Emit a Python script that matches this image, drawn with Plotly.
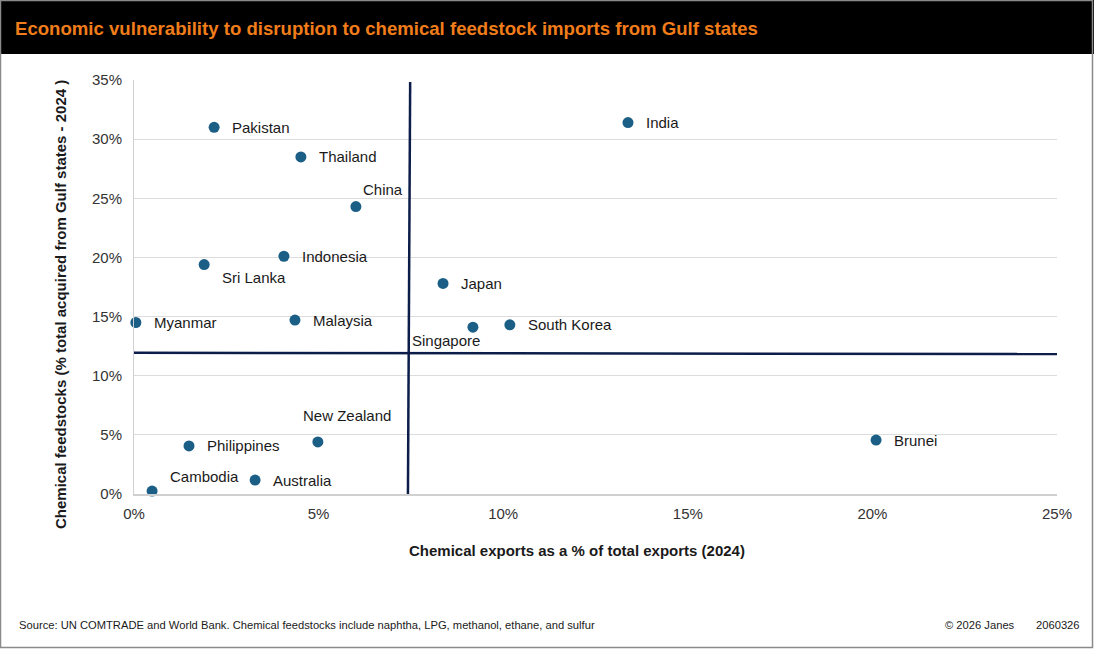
import plotly.graph_objects as go

countries = ["Pakistan", "Thailand", "China", "Indonesia", "Sri Lanka", "Myanmar", "Malaysia",
             "India", "Japan", "Singapore", "South Korea", "New Zealand", "Philippines",
             "Cambodia", "Australia", "Brunei"]
chem_exports = [2.17, 4.52, 6.01, 4.06, 1.90, 0.05, 4.36, 13.38, 8.37, 9.18, 10.18, 4.98, 1.49, 0.49, 3.28, 20.10]
feedstock_gulf = [31.0, 28.5, 24.3, 20.1, 19.4, 14.5, 14.7, 31.4, 17.8, 14.1, 14.3, 4.4, 4.06, 0.25, 1.18, 4.56]
label_pos = ["right", "right", "top", "right", "below", "right", "right", "right", "right",
             "belowleft", "right", "topcenter", "right", "topleft", "right", "right"]

vline_x = [7.48, 7.42]
vline_y = [34.83, 0]
hline_x = [0, 25]
hline_y = [11.94, 11.83]

x_ticks = [0, 5, 10, 15, 20, 25]
y_ticks = [0, 5, 10, 15, 20, 25, 30, 35]

FONT = "Liberation Sans, Arial, sans-serif"
MARK = "#1b5f86"
NAVY = "#0c1d4a"

fig = go.Figure()
fig.add_trace(go.Scatter(x=hline_x, y=hline_y, mode="lines", line=dict(color=NAVY, width=2.5),
                         hoverinfo="skip", showlegend=False))
fig.add_trace(go.Scatter(x=vline_x, y=vline_y, mode="lines", line=dict(color=NAVY, width=2.5),
                         hoverinfo="skip", showlegend=False))
fig.add_trace(go.Scatter(x=chem_exports, y=feedstock_gulf, mode="markers",
                         marker=dict(color=MARK, size=11), text=countries,
                         showlegend=False, cliponaxis=False))

for c, x, y, p in zip(countries, chem_exports, feedstock_gulf, label_pos):
    a = dict(x=x, y=y, text=c, showarrow=False, font=dict(family=FONT, size=15, color="#1a1a1a"))
    if p == "right":
        a.update(xanchor="left", yanchor="middle", xshift=16)
    elif p == "top":
        a.update(xanchor="left", yanchor="bottom", xshift=5, yshift=7)
    elif p == "topcenter":
        a.update(xanchor="center", yanchor="middle", xshift=29, yshift=26)
    elif p == "topleft":
        a.update(xanchor="left", yanchor="middle", xshift=16, yshift=15)
    elif p == "below":
        a.update(xanchor="left", yanchor="top", xshift=16, yshift=-2)
    elif p == "belowleft":
        a.update(xanchor="center", yanchor="top", xshift=-27, yshift=-3)
    fig.add_annotation(**a)

W, H = 1094, 649
L, R, T, B = 134, 1057, 80, 494
pw, ph = R - L, B - T


def px(p):
    return (p - L) / pw


def py(p):
    return (B - p) / ph


# title bar, border
fig.add_shape(type="rect", xref="paper", yref="paper", x0=px(0), x1=px(W), y0=py(54), y1=py(0),
              fillcolor="black", line=dict(width=0), layer="below")
fig.add_shape(type="rect", xref="paper", yref="paper", x0=px(0.5), x1=px(W - 1.5), y0=py(H - 1.5), y1=py(0.5),
              fillcolor="rgba(0,0,0,0)", line=dict(color="#8a8a8a", width=1.5))

fig.add_annotation(xref="paper", yref="paper", x=px(13), y=py(28), xanchor="left", yanchor="middle",
                   text="<b>Economic vulnerability to disruption to chemical feedstock imports from Gulf states</b>",
                   showarrow=False, font=dict(family=FONT, size=18.6, color="#f07d1a"))
fig.add_annotation(xref="paper", yref="paper", x=px(577), y=py(550), xanchor="center", yanchor="middle",
                   text="<b>Chemical exports as a % of total exports (2024)</b>",
                   showarrow=False, font=dict(family=FONT, size=15, color="#1a1a1a"))
fig.add_annotation(xref="paper", yref="paper", x=px(60), y=py(305), xanchor="center", yanchor="middle",
                   text="<b>Chemical feedstocks (% total acquired from Gulf states - 2024 )</b>", textangle=-90,
                   showarrow=False, font=dict(family=FONT, size=15, color="#1a1a1a"))
fig.add_annotation(xref="paper", yref="paper", x=px(17), y=py(625), xanchor="left", yanchor="middle",
                   text="Source: UN COMTRADE and World Bank. Chemical feedstocks include naphtha, LPG, methanol, ethane, and sulfur",
                   showarrow=False, font=dict(family=FONT, size=11.2, color="#1a1a1a"))
fig.add_annotation(xref="paper", yref="paper", x=px(1017), y=py(625), xanchor="right", yanchor="middle",
                   text="© 2026 Janes", showarrow=False, font=dict(family=FONT, size=11.2, color="#1a1a1a"))
fig.add_annotation(xref="paper", yref="paper", x=px(1082), y=py(625), xanchor="right", yanchor="middle",
                   text="2060326", showarrow=False, font=dict(family=FONT, size=11.2, color="#1a1a1a"))

fig.update_xaxes(range=[0, 25], tickvals=x_ticks, ticktext=[f"{v}%" for v in x_ticks],
                 showgrid=False, zeroline=False, showline=True, linecolor="#d0d0d0", linewidth=2,
                 ticks="", tickfont=dict(family=FONT, size=15, color="#333333"), ticklabelstandoff=5)
fig.update_yaxes(range=[0, 35], tickvals=y_ticks, ticktext=[f"{v}%" for v in y_ticks],
                 showgrid=True, gridcolor="#dcdcdc", gridwidth=1, zeroline=False,
                 showline=True, linecolor="#d0d0d0", linewidth=1,
                 ticks="", tickfont=dict(family=FONT, size=15, color="#333333"), ticklabelstandoff=8)

fig.update_layout(width=W, height=H, margin=dict(l=L, r=W - R, t=T, b=H - B),
                  plot_bgcolor="white", paper_bgcolor="white", showlegend=False)

fig.write_html("out.html")
